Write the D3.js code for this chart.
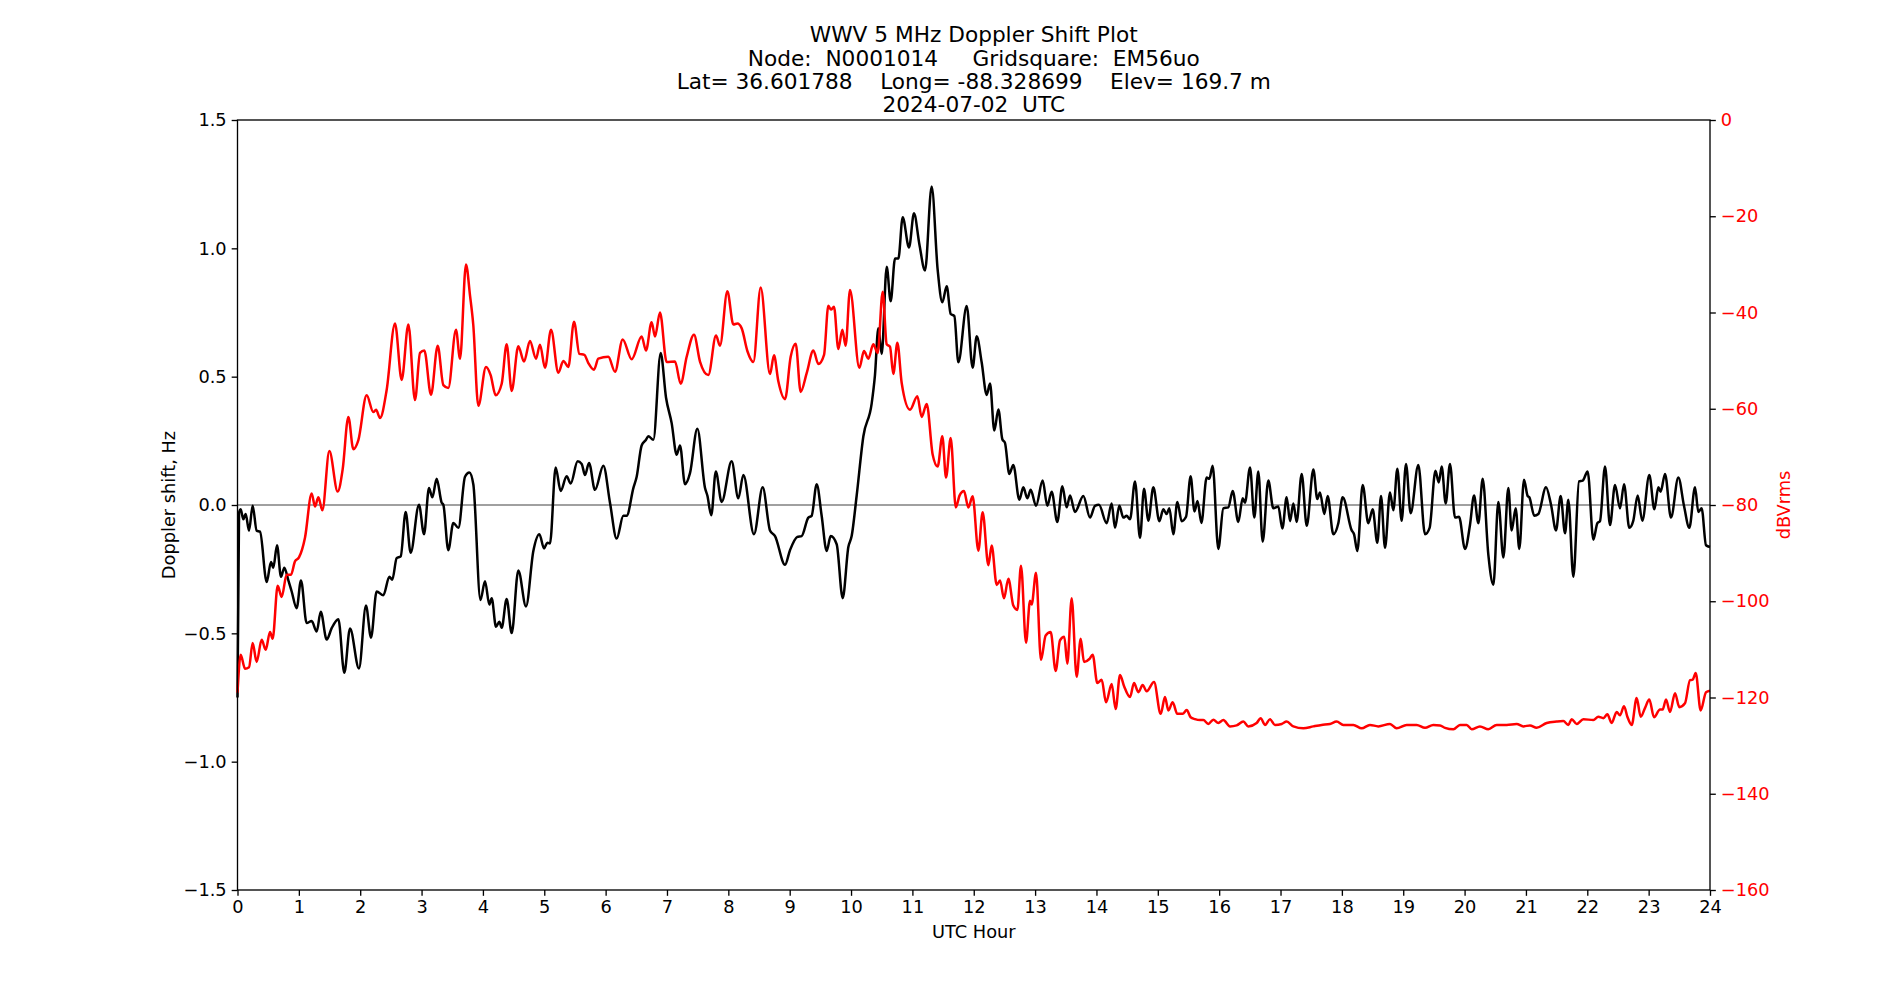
<!DOCTYPE html>
<html>
<head>
<meta charset="utf-8">
<title>WWV 5 MHz Doppler Shift Plot</title>
<script src="https://cdn.jsdelivr.net/npm/d3@7"></script>
<style>
  body { margin: 0; background: #fff; }
  svg, svg text { font-family: "DejaVu Sans", sans-serif; }
  .title text { white-space: pre; }
</style>
</head>
<body>
<div id="doppler-chart"></div>
<script>
// title lines
const titleLines = [
  "WWV 5 MHz Doppler Shift Plot",
  "Node:  N0001014     Gridsquare:  EM56uo",
  "Lat= 36.601788    Long= -88.328699    Elev= 169.7 m",
  "2024-07-02  UTC"
];

// axis ticks
const hourTicks = d3.range(0, 25);
const dopplerTicks = [-1.5, -1.0, -0.5, 0.0, 0.5, 1.0, 1.5];
const powerTicks = [-160, -140, -120, -100, -80, -60, -40, -20, 0];

// doppler shift (black) at its turning points
const dopplerHour = [
  0, 0.025, 0.052, 0.095, 0.133, 0.188, 0.247, 0.312, 0.367, 0.476, 0.546, 0.584, 0.644, 0.709, 0.763, 0.829,
  0.883, 0.964, 1.035, 1.127, 1.209, 1.291, 1.356, 1.454, 1.535, 1.644, 1.741, 1.834, 1.98, 2.094, 2.176, 2.268,
  2.377, 2.475, 2.523, 2.594, 2.66, 2.741, 2.822, 2.958, 3.04, 3.121, 3.176, 3.246, 3.328, 3.355, 3.436, 3.518,
  3.6, 3.708, 3.779, 3.844, 3.96, 4.034, 4.105, 4.143, 4.213, 4.268, 4.306, 4.387, 4.469, 4.577, 4.702, 4.822,
  4.92, 4.996, 5.05, 5.093, 5.186, 5.267, 5.365, 5.43, 5.544, 5.61, 5.664, 5.729, 5.827, 5.963, 6.071, 6.18,
  6.289, 6.343, 6.452, 6.506, 6.587, 6.658, 6.696, 6.778, 6.897, 6.984, 7.077, 7.158, 7.212, 7.294, 7.375, 7.495,
  7.62, 7.658, 7.722, 7.796, 7.891, 8.054, 8.163, 8.245, 8.418, 8.56, 8.679, 8.761, 8.924, 9.005, 9.125, 9.195,
  9.304, 9.358, 9.44, 9.521, 9.603, 9.668, 9.766, 9.864, 9.956, 10.01, 10.092, 10.201, 10.336, 10.39, 10.445, 10.5,
  10.581, 10.646, 10.717, 10.771, 10.842, 10.945, 11.026, 11.113, 11.206, 11.314, 11.412, 11.488, 11.559, 11.624, 11.684, 11.749,
  11.885, 11.982, 12.048, 12.129, 12.211, 12.265, 12.335, 12.401, 12.466, 12.509, 12.58, 12.645, 12.743, 12.808, 12.873, 12.928,
  13.015, 13.123, 13.199, 13.27, 13.362, 13.444, 13.514, 13.569, 13.65, 13.786, 13.895, 13.976, 14.041, 14.166, 14.248, 14.302,
  14.373, 14.438, 14.492, 14.547, 14.628, 14.71, 14.775, 14.846, 14.927, 15.025, 15.09, 15.144, 15.188, 15.253, 15.318, 15.389,
  15.46, 15.535, 15.598, 15.647, 15.71, 15.796, 15.84, 15.894, 15.986, 16.068, 16.15, 16.22, 16.312, 16.383, 16.421, 16.503,
  16.573, 16.638, 16.709, 16.801, 16.883, 16.964, 17.03, 17.1, 17.155, 17.209, 17.263, 17.345, 17.427, 17.535, 17.6, 17.643,
  17.714, 17.768, 17.861, 17.942, 18.013, 18.16, 18.198, 18.252, 18.339, 18.431, 18.502, 18.578, 18.638, 18.703, 18.784, 18.839,
  18.904, 18.974, 19.045, 19.121, 19.246, 19.355, 19.43, 19.525, 19.58, 19.627, 19.692, 19.762, 19.844, 19.909, 20.007, 20.088,
  20.154, 20.224, 20.295, 20.387, 20.469, 20.55, 20.632, 20.713, 20.767, 20.833, 20.892, 20.968, 21.028, 21.055, 21.137, 21.202,
  21.327, 21.409, 21.49, 21.566, 21.637, 21.691, 21.773, 21.865, 21.925, 22.006, 22.099, 22.164, 22.207, 22.289, 22.37, 22.452,
  22.533, 22.599, 22.685, 22.75, 22.821, 22.897, 23.011, 23.093, 23.158, 23.196, 23.267, 23.364, 23.484, 23.576, 23.663, 23.756,
  23.81, 23.864, 23.935, 24.0
];
const dopplerHz = [
  -0.75, -0.03, -0.017, -0.056, -0.035, -0.10, -0.003, -0.10, -0.104, -0.30, -0.222, -0.244, -0.157, -0.28, -0.244, -0.294,
  -0.337, -0.402, -0.294, -0.46, -0.452, -0.493, -0.416, -0.524, -0.48, -0.445, -0.654, -0.481, -0.637, -0.392, -0.517, -0.337,
  -0.352, -0.28, -0.291, -0.207, -0.20, -0.027, -0.186, 0.001, -0.114, 0.066, 0.03, 0.102, 0.009, 0.001, -0.176, -0.07,
  -0.089, 0.11, 0.127, 0.08, -0.37, -0.297, -0.388, -0.363, -0.474, -0.455, -0.478, -0.366, -0.499, -0.255, -0.395, -0.179,
  -0.114, -0.169, -0.147, -0.15, 0.146, 0.055, 0.112, 0.084, 0.17, 0.16, 0.117, 0.164, 0.059, 0.153, 0.009, -0.131,
  -0.042, -0.042, 0.066, 0.11, 0.232, 0.254, 0.268, 0.254, 0.592, 0.419, 0.318, 0.196, 0.232, 0.081, 0.124, 0.297,
  0.066, 0.037, -0.04, 0.131, 0.012, 0.17, 0.026, 0.117, -0.114, 0.069, -0.099, -0.121, -0.233, -0.176, -0.124, -0.121,
  -0.049, -0.042, 0.081, -0.042, -0.179, -0.121, -0.153, -0.363, -0.164, -0.121, 0.037, 0.268, 0.395, 0.506, 0.689, 0.588,
  0.928, 0.794, 0.96, 0.96, 1.121, 1.003, 1.137, 1.017, 0.914, 1.241, 0.916, 0.79, 0.852, 0.744, 0.736, 0.556,
  0.775, 0.535, 0.657, 0.556, 0.429, 0.473, 0.29, 0.372, 0.256, 0.242, 0.121, 0.156, 0.02, 0.069, 0.026, 0.059,
  -0.003, 0.095, -0.003, 0.052, -0.066, 0.073, -0.009, 0.037, -0.027, 0.035, -0.049, -0.003, 0.001, -0.071, 0.006, -0.089,
  -0.003, -0.049, -0.042, -0.056, 0.092, -0.128, 0.063, -0.061, 0.069, -0.063, -0.017, -0.035, -0.013, -0.114, 0.012, -0.063,
  -0.046, 0.112, -0.025, 0.016, -0.07, 0.107, 0.102, 0.153, -0.171, -0.013, -0.009, 0.055, -0.066, 0.026, 0.009, 0.146,
  -0.049, 0.131, -0.143, 0.095, -0.013, -0.006, -0.092, 0.03, -0.063, 0.006, -0.066, 0.121, -0.081, 0.138, 0.023, 0.049,
  -0.035, 0.035, -0.114, -0.071, 0.03, -0.099, -0.114, -0.179, 0.078, -0.071, -0.017, -0.147, 0.035, -0.167, 0.049, -0.02,
  0.141, -0.061, 0.16, -0.032, 0.156, -0.114, -0.089, 0.133, 0.088, 0.15, 0.006, 0.16, -0.049, -0.046, -0.171, -0.078,
  0.037, -0.071, 0.102, -0.193, -0.311, 0.012, -0.205, 0.066, -0.099, -0.013, -0.171, 0.098, 0.035, 0.03, -0.042, -0.035,
  0.069, 0.001, -0.099, 0.035, -0.11, 0.02, -0.28, 0.092, 0.095, 0.131, -0.135, -0.071, -0.063, 0.15, -0.078, 0.078,
  -0.013, 0.081, -0.089, -0.061, 0.037, -0.061, 0.117, -0.017, 0.069, 0.052, 0.121, -0.049, 0.107, -0.003, -0.089, 0.069,
  -0.027, -0.013, -0.157, -0.164
];

// received power (red), dBVrms
const powerHour = [
  0, 0.052, 0.122, 0.188, 0.247, 0.312, 0.394, 0.459, 0.53, 0.573, 0.655, 0.72, 0.801, 0.872, 0.937, 1.002,
  1.1, 1.209, 1.263, 1.318, 1.383, 1.497, 1.633, 1.714, 1.807, 1.888, 1.97, 2.105, 2.214, 2.258, 2.323, 2.431,
  2.567, 2.676, 2.785, 2.893, 2.975, 3.045, 3.154, 3.263, 3.355, 3.436, 3.561, 3.627, 3.724, 3.79, 3.843, 3.925,
  4.05, 4.126, 4.208, 4.306, 4.387, 4.469, 4.577, 4.67, 4.767, 4.865, 4.93, 5.012, 5.11, 5.229, 5.311, 5.392,
  5.485, 5.572, 5.653, 5.718, 5.81, 5.881, 6.044, 6.153, 6.278, 6.425, 6.587, 6.658, 6.75, 6.805, 6.886, 6.995,
  7.131, 7.223, 7.321, 7.44, 7.538, 7.674, 7.799, 7.864, 7.984, 8.082, 8.147, 8.218, 8.31, 8.408, 8.527, 8.679,
  8.744, 8.815, 8.924, 9.016, 9.098, 9.179, 9.277, 9.386, 9.467, 9.56, 9.63, 9.673, 9.722, 9.793, 9.858, 9.912,
  9.983, 10.135, 10.211, 10.282, 10.363, 10.434, 10.516, 10.581, 10.635, 10.689, 10.755, 10.825, 10.961, 11.081, 11.151, 11.233,
  11.33, 11.412, 11.488, 11.548, 11.624, 11.708, 11.77, 11.841, 11.912, 11.982, 12.075, 12.145, 12.238, 12.292, 12.374, 12.428,
  12.493, 12.564, 12.645, 12.711, 12.77, 12.852, 12.917, 12.944, 13.015, 13.096, 13.172, 13.254, 13.335, 13.406, 13.476, 13.525,
  13.596, 13.677, 13.743, 13.797, 13.884, 13.938, 14.014, 14.085, 14.156, 14.248, 14.313, 14.384, 14.449, 14.547, 14.612, 14.683,
  14.753, 14.818, 14.938, 15.047, 15.117, 15.172, 15.242, 15.318, 15.405, 15.471, 15.535, 15.606, 15.688, 15.742, 15.823, 15.905,
  15.986, 16.068, 16.177, 16.285, 16.394, 16.475, 16.611, 16.676, 16.747, 16.828, 16.91, 17.019, 17.1, 17.209, 17.372, 17.535,
  17.67, 17.806, 17.915, 18.024, 18.187, 18.323, 18.458, 18.594, 18.784, 18.893, 19.056, 19.219, 19.355, 19.49, 19.6, 19.681,
  19.817, 19.925, 20.034, 20.116, 20.251, 20.387, 20.523, 20.686, 20.849, 20.958, 21.066, 21.175, 21.338, 21.5, 21.609, 21.691,
  21.745, 21.827, 21.936, 22.099, 22.18, 22.262, 22.327, 22.397, 22.479, 22.533, 22.599, 22.653, 22.724, 22.805, 22.87, 22.94,
  23.011, 23.087, 23.185, 23.229, 23.283, 23.348, 23.43, 23.5, 23.592, 23.674, 23.718, 23.767, 23.848, 23.935, 24.0
];
const powerDb = [
  -119, -111.1, -114.0, -113.7, -108.7, -112.6, -108.0, -110.1, -106.4, -107.8, -96.8, -99.1, -94.5, -94.5, -91.7, -90.9,
  -86.8, -77.6, -80.3, -78.4, -81.1, -68.8, -77.2, -72.6, -61.7, -68.4, -66.5, -57.2, -60.7, -60.2, -61.9, -56.1,
  -42.3, -54.0, -42.5, -58.2, -48.4, -47.9, -57.1, -46.9, -55.1, -55.7, -43.6, -49.6, -30.0, -36.5, -42.6, -59.4,
  -51.3, -53.0, -57.2, -54.8, -46.6, -56.3, -47.0, -50.2, -45.9, -49.6, -46.7, -51.5, -43.6, -52.5, -50.1, -51.3,
  -41.9, -48.6, -48.8, -50.5, -51.9, -49.6, -49.2, -52.3, -45.6, -49.7, -45.0, -47.9, -42.0, -45.0, -40.0, -50.3,
  -50.2, -54.8, -49.2, -44.6, -50.2, -53.0, -44.8, -46.9, -35.6, -42.5, -42.3, -43.3, -48.0, -50.3, -34.8, -52.8,
  -48.9, -54.3, -58.0, -49.2, -46.5, -56.5, -52.6, -47.9, -50.7, -48.8, -38.6, -39.4, -38.8, -47.6, -43.6, -46.9,
  -35.3, -51.5, -48.0, -49.6, -46.6, -48.4, -35.7, -46.6, -47.1, -52.8, -46.3, -54.6, -60.2, -57.4, -61.7, -59.0,
  -69.5, -72.0, -65.7, -74.3, -66.1, -80.5, -78.0, -77.1, -80.5, -78.2, -89.5, -81.5, -92.5, -88.4, -96.6, -95.7,
  -99.4, -95.3, -100.9, -101.8, -92.6, -108.6, -99.9, -100.7, -94.1, -112.2, -107.1, -106.4, -114.5, -108.1, -107.4, -113.0,
  -99.4, -115.7, -107.8, -112.6, -112.0, -111.1, -117.0, -116.3, -121.0, -117.2, -122.4, -115.3, -117.6, -119.9, -117.0, -118.9,
  -117.4, -118.7, -116.8, -123.4, -119.9, -122.7, -121.0, -123.4, -123.4, -122.6, -124.1, -124.5, -124.7, -124.7, -125.5, -124.6,
  -125.3, -124.7, -126.0, -125.8, -125.0, -126.0, -125.3, -124.3, -125.7, -124.5, -125.7, -125.5, -125.0, -126.0, -126.4, -126.0,
  -125.7, -125.5, -125.0, -125.7, -125.7, -126.4, -125.7, -126.0, -125.5, -126.4, -125.7, -125.7, -126.3, -125.7, -125.8, -126.3,
  -126.6, -125.7, -125.7, -126.6, -126.0, -126.6, -125.7, -125.7, -125.5, -126.0, -125.8, -126.3, -125.3, -125.0, -124.9, -125.7,
  -124.5, -125.5, -124.5, -124.7, -124.0, -124.3, -123.5, -125.3, -123.0, -123.7, -121.8, -124.0, -125.7, -120.1, -124.0, -122.2,
  -120.4, -124.1, -122.5, -122.5, -120.4, -123.0, -119.1, -122.0, -121.2, -116.4, -116.3, -114.9, -122.7, -118.9, -118.6
];

const width = 1900,
      height = 1000,
      margin = {top: 120, right: 190, bottom: 110, left: 237.5};
const fontSize = 17.8;
const fontFamily = '"DejaVu Sans", sans-serif';

const svg = d3.select('#doppler-chart').append('svg')
  .attr('width', width)
  .attr('height', height);

const x = d3.scaleLinear()
  .domain([0, 24])
  .range([margin.left, width - margin.right]);
const y = d3.scaleLinear()
  .domain([-1.5, 1.5])
  .range([height - margin.bottom, margin.top]);
const yPower = d3.scaleLinear()
  .domain([-160, 0])
  .range([height - margin.bottom, margin.top]);

const plotW = x.range()[1] - x.range()[0];
const cx = (x.range()[0] + x.range()[1]) / 2;
const cy = (y.range()[0] + y.range()[1]) / 2;

// zero reference line
svg.append('line')
  .attr('x1', x(0)).attr('x2', x(24))
  .attr('y1', y(0)).attr('y2', y(0))
  .attr('stroke', 'gray')
  .attr('stroke-width', 1.6);

const dopplerData = dopplerHour.map((h, i) => ({h: h, v: dopplerHz[i]}));
const powerData = powerHour.map((h, i) => ({h: h, v: powerDb[i]}));

svg.append('path')
  .datum(dopplerData)
  .attr('fill', 'none')
  .attr('stroke', 'black')
  .attr('stroke-width', 2.5)
  .attr('stroke-linejoin', 'round')
  .attr('d', d3.line().x(d => x(d.h)).y(d => y(d.v)).curve(d3.curveMonotoneX));

svg.append('path')
  .datum(powerData)
  .attr('fill', 'none')
  .attr('stroke', 'red')
  .attr('stroke-width', 2.5)
  .attr('stroke-linejoin', 'round')
  .attr('d', d3.line().x(d => x(d.h)).y(d => yPower(d.v)).curve(d3.curveMonotoneX));

// frame
svg.append('rect')
  .attr('x', x(0)).attr('y', margin.top)
  .attr('width', plotW).attr('height', y.range()[0] - margin.top)
  .attr('fill', 'none')
  .attr('stroke', 'black')
  .attr('stroke-width', 1.33);

const tickLen = 5.83, tickPad = 5;

const styleAxis = (g, color) => {
  g.attr('font-family', fontFamily).attr('font-size', fontSize);
  g.select('.domain').remove();
  g.selectAll('.tick line').attr('stroke', 'black').attr('stroke-width', 1.33);
  g.selectAll('.tick text').attr('fill', color);
};

svg.append('g')
  .attr('transform', 'translate(0,' + y.range()[0] + ')')
  .call(d3.axisBottom(x).tickValues(hourTicks).tickFormat(d3.format('d'))
    .tickSize(tickLen).tickPadding(tickPad))
  .call(g => styleAxis(g, 'black'));

svg.append('g')
  .attr('transform', 'translate(' + x(0) + ',0)')
  .call(d3.axisLeft(y).tickValues(dopplerTicks).tickFormat(d3.format('.1f'))
    .tickSize(tickLen).tickPadding(tickPad))
  .call(g => styleAxis(g, 'black'));

svg.append('g')
  .attr('transform', 'translate(' + x(24) + ',0)')
  .call(d3.axisRight(yPower).tickValues(powerTicks).tickFormat(d3.format('d'))
    .tickSize(tickLen).tickPadding(tickPad))
  .call(g => styleAxis(g, 'red'));

// axis labels
svg.append('text')
  .attr('x', cx).attr('y', 937.5)
  .attr('text-anchor', 'middle')
  .attr('font-family', fontFamily)
  .attr('font-size', fontSize)
  .text('UTC Hour');

svg.append('text')
  .attr('transform', 'translate(175,' + cy + ') rotate(-90)')
  .attr('text-anchor', 'middle')
  .attr('font-family', fontFamily)
  .attr('font-size', fontSize)
  .text('Doppler shift, Hz');

svg.append('text')
  .attr('transform', 'translate(1790,' + cy + ') rotate(-90)')
  .attr('text-anchor', 'middle')
  .attr('fill', 'red')
  .attr('font-family', fontFamily)
  .attr('font-size', fontSize)
  .text('dBVrms');

// title
svg.append('g')
  .attr('class', 'title')
  .selectAll('text')
  .data(titleLines)
  .enter().append('text')
  .attr('x', cx)
  .attr('y', (d, i) => 42.3 + i * 23.25)
  .attr('text-anchor', 'middle')
  .attr('font-family', fontFamily)
  .attr('font-size', 21.67)
  .text(d => d);
</script>
</body>
</html>
